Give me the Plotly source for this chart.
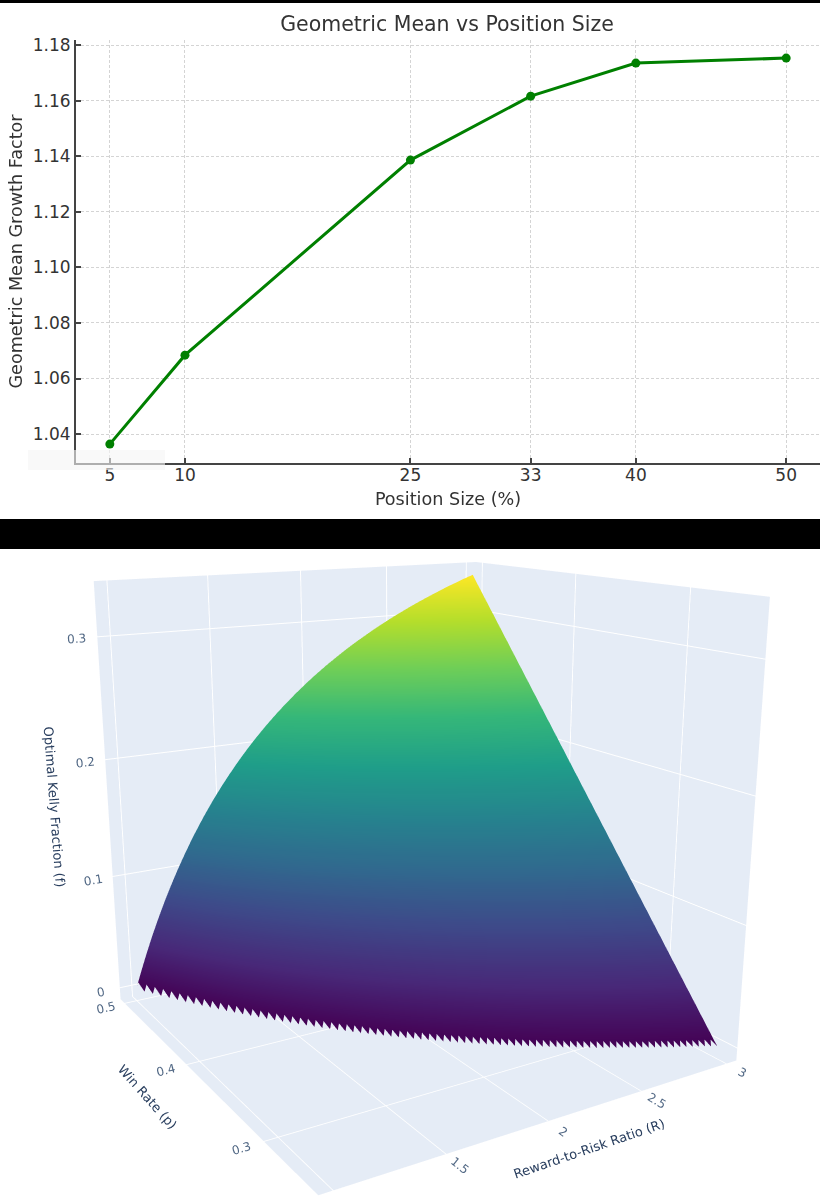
import plotly.graph_objects as go

# top chart
position_size = [5, 10, 25, 33, 40, 50]
geo_mean = [1.0364, 1.0684, 1.1386, 1.1616, 1.1735, 1.1753]
y_ticks = [1.04, 1.06, 1.08, 1.10, 1.12, 1.14, 1.16, 1.18]

# surface columns, each from the jagged zero edge up to the p=0.5 rim
# tooth tips of the edge
reward_tip = [1.000, 1.025, 1.050, 1.075, 1.100, 1.125, 1.150, 1.175, 1.200, 1.225, 1.250, 1.275, 1.300, 1.325,
              1.350, 1.375, 1.400, 1.425, 1.450, 1.475, 1.500, 1.525, 1.550, 1.575, 1.600, 1.625, 1.650, 1.675,
              1.700, 1.725, 1.750, 1.775, 1.800, 1.825, 1.850, 1.875, 1.900, 1.925, 1.950, 1.975, 2.000, 2.025,
              2.050, 2.075, 2.100, 2.125, 2.150, 2.175, 2.200, 2.225, 2.250, 2.275, 2.300, 2.325, 2.350, 2.375,
              2.400, 2.425, 2.450, 2.475, 2.500, 2.525, 2.550, 2.575, 2.600, 2.625, 2.650, 2.675, 2.700, 2.725,
              2.750, 2.775, 2.800, 2.825, 2.850, 2.875, 2.900, 2.925, 2.950, 2.975, 3.000]
win_tip = [.5000, .4938, .4878, .4819, .4762, .4706, .4651, .4598, .4545, .4494, .4444, .4396, .4348, .4301,
           .4255, .4211, .4167, .4124, .4082, .4040, .4000, .3960, .3922, .3883, .3846, .3810, .3774, .3738,
           .3704, .3670, .3636, .3604, .3571, .3540, .3509, .3478, .3448, .3419, .3390, .3361, .3333, .3306,
           .3279, .3252, .3226, .3200, .3175, .3150, .3125, .3101, .3077, .3053, .3030, .3008, .2985, .2963,
           .2941, .2920, .2899, .2878, .2857, .2837, .2817, .2797, .2778, .2759, .2740, .2721, .2703, .2685,
           .2667, .2649, .2632, .2614, .2597, .2581, .2564, .2548, .2532, .2516, .2500]
rim_tip = [.0000, .0122, .0238, .0349, .0455, .0556, .0652, .0745, .0833, .0918, .1000, .1078, .1154, .1226,
           .1296, .1364, .1429, .1491, .1552, .1610, .1667, .1721, .1774, .1825, .1875, .1923, .1970, .2015,
           .2059, .2101, .2143, .2183, .2222, .2260, .2297, .2333, .2368, .2403, .2436, .2468, .2500, .2531,
           .2561, .2590, .2619, .2647, .2674, .2701, .2727, .2753, .2778, .2802, .2826, .2849, .2872, .2895,
           .2917, .2938, .2959, .2980, .3000, .3020, .3039, .3058, .3077, .3095, .3113, .3131, .3148, .3165,
           .3182, .3198, .3214, .3230, .3246, .3261, .3276, .3291, .3305, .3319, .3333]

# notches between the teeth
reward_notch = [1.0125, 1.0375, 1.0625, 1.0875, 1.1125, 1.1375, 1.1625, 1.1875, 1.2125, 1.2375, 1.2625, 1.2875,
                1.3125, 1.3375, 1.3625, 1.3875, 1.4125, 1.4375, 1.4625, 1.4875, 1.5125, 1.5375, 1.5625, 1.5875,
                1.6125, 1.6375, 1.6625, 1.6875, 1.7125, 1.7375, 1.7625, 1.7875, 1.8125, 1.8375, 1.8625, 1.8875,
                1.9125, 1.9375, 1.9625, 1.9875, 2.0125, 2.0375, 2.0625, 2.0875, 2.1125, 2.1375, 2.1625, 2.1875,
                2.2125, 2.2375, 2.2625, 2.2875, 2.3125, 2.3375, 2.3625, 2.3875, 2.4125, 2.4375, 2.4625, 2.4875,
                2.5125, 2.5375, 2.5625, 2.5875, 2.6125, 2.6375, 2.6625, 2.6875, 2.7125, 2.7375, 2.7625, 2.7875,
                2.8125, 2.8375, 2.8625, 2.8875, 2.9125, 2.9375, 2.9625, 2.9875]
win_notch = [.4999, .4938, .4879, .4821, .4764, .4709, .4655, .4602, .4550, .4499, .4450, .4402, .4355, .4308,
             .4263, .4219, .4176, .4133, .4091, .4050, .4010, .3971, .3933, .3895, .3858, .3822, .3786, .3751,
             .3717, .3683, .3650, .3618, .3586, .3555, .3524, .3493, .3464, .3435, .3406, .3377, .3350, .3323,
             .3296, .3269, .3243, .3218, .3193, .3168, .3143, .3119, .3095, .3072, .3049, .3027, .3004, .2982,
             .2961, .2940, .2919, .2898, .2877, .2857, .2837, .2818, .2799, .2780, .2761, .2742, .2724, .2706,
             .2688, .2671, .2653, .2636, .2619, .2603, .2586, .2570, .2554, .2538]
kelly_notch = [.0060, .0059, .0058, .0058, .0057, .0056, .0056, .0055, .0055, .0054, .0054, .0053, .0053, .0052,
               .0052, .0052, .0051, .0051, .0051, .0050, .0050, .0050, .0049, .0049, .0049, .0048, .0048, .0048,
               .0048, .0047, .0047, .0047, .0047, .0046, .0046, .0046, .0046, .0045, .0045, .0045, .0045, .0045,
               .0045, .0044, .0044, .0044, .0044, .0044, .0044, .0043, .0043, .0043, .0043, .0043, .0043, .0043,
               .0042, .0042, .0042, .0042, .0042, .0042, .0042, .0042, .0041, .0041, .0041, .0041, .0041, .0041,
               .0041, .0041, .0041, .0041, .0040, .0040, .0040, .0040, .0040, .0040]
rim_notch = [.0061, .0180, .0294, .0402, .0505, .0604, .0698, .0789, .0875, .0959, .1039, .1116, .1190, .1261,
             .1330, .1396, .1460, .1521, .1581, .1638, .1694, .1747, .1799, .1850, .1899, .1946, .1992, .2037,
             .2080, .2122, .2163, .2202, .2241, .2278, .2315, .2350, .2385, .2419, .2452, .2484, .2515, .2546,
             .2575, .2604, .2633, .2660, .2687, .2714, .2740, .2765, .2790, .2814, .2837, .2860, .2883, .2906,
             .2927, .2948, .2969, .2990, .3010, .3029, .3048, .3067, .3086, .3104, .3122, .3139, .3156, .3173,
             .3190, .3206, .3222, .3238, .3253, .3268, .3283, .3298, .3312, .3326]

reward_ticks = [1, 1.5, 2, 2.5, 3]
reward_tick_text = ["", "1.5", "2", "2.5", "3"]

# figure runs past the bottom of the window, the 3D scene is cropped like in the screenshot
H = 1361
W = 820
SCENE_H = 1085
MPL_FONT = "DejaVu Sans"


def interleave(tips, notches):
    out = []
    for i in range(len(notches)):
        out += [tips[i], notches[i]]
    return out + [tips[-1]]


reward_risk = interleave(reward_tip, reward_notch)
win_edge = interleave(win_tip, win_notch)
kelly_edge = interleave([0] * len(win_tip), kelly_notch)
kelly_rim = interleave(rim_tip, rim_notch)
win_rim = [0.5] * len(reward_risk)

fig = go.Figure()

fig.add_trace(go.Scatter(x=position_size, y=geo_mean, mode="lines+markers",
                         line=dict(color="#008000", width=3),
                         marker=dict(color="#008000", size=9),
                         showlegend=False))

fig.add_trace(go.Surface(x=[reward_risk, reward_risk], y=[win_edge, win_rim], z=[kelly_edge, kelly_rim],
                         colorscale="Viridis", cmin=0, cmax=0.3333, showscale=False,
                         lighting=dict(ambient=1, diffuse=0, specular=0, fresnel=0, roughness=1),
                         scene="scene"))

axis_line = dict(showline=True, linecolor="#444444", linewidth=2, ticks="inside", ticklen=5,
                 tickcolor="#444444", tickwidth=1.5, showgrid=True, gridcolor="#d4d4d4", griddash="3px,2px",
                 gridwidth=1, zeroline=False, automargin=False,
                 tickfont=dict(family=MPL_FONT, size=17, color="#333333"))

title_font = dict(family=MPL_FONT, size=17.6, color="#333333")
tick_3d = dict(family=MPL_FONT, size=12, color="#506784")
title_3d = dict(family=MPL_FONT, size=13, color="#2a3f5f")

fig.update_layout(
    width=W, height=H, margin=dict(l=0, r=0, t=0, b=0), autosize=False,
    paper_bgcolor="white", plot_bgcolor="white", showlegend=False,
    title=dict(text="Geometric Mean vs Position Size", x=447 / W, y=1 - 24 / H, xanchor="center", yanchor="middle",
               font=dict(family=MPL_FONT, size=20.5, color="#333333")),
    xaxis=dict(domain=[76 / W, 1], range=[2.75, 52.25], tickvals=position_size, ticklabelstandoff=-4,
               title=dict(text="Position Size (%)", standoff=8, font=title_font), **axis_line),
    yaxis=dict(domain=[1 - 463 / H, 1 - 40 / H], range=[1.0296, 1.1818], tickvals=y_ticks, tickformat=".2f",
               title=dict(text="Geometric Mean Growth Factor", standoff=6, font=title_font), **axis_line),
    scene=dict(
        domain=dict(x=[4 / W, 1], y=[0, SCENE_H / H]),
        aspectmode="manual",
        aspectratio=dict(x=1, y=1, z=0.975),
        camera=dict(eye=dict(x=-1.42, y=-2.30, z=0.75)),
        xaxis=dict(title=dict(text="Reward-to-Risk Ratio (R)", font=title_3d), tickvals=reward_ticks,
                   ticktext=reward_tick_text, tickfont=tick_3d),
        yaxis=dict(title=dict(text="Win Rate (p)", font=title_3d), dtick=0.1, tickfont=tick_3d),
        zaxis=dict(title=dict(text="Optimal Kelly Fraction (f)", font=title_3d), dtick=0.1, tickfont=tick_3d),
    ),
    shapes=[
        dict(type="rect", xref="paper", yref="paper", x0=0, x1=1, y0=1 - 3 / H, y1=1,
             fillcolor="black", line_width=0),
        dict(type="rect", xref="paper", yref="paper", x0=0, x1=1, y0=1 - 549 / H, y1=1 - 519 / H,
             fillcolor="black", line_width=0),
        dict(type="rect", xref="paper", yref="paper", x0=28 / W, x1=165 / W, y0=1 - 470 / H, y1=1 - 450 / H,
             fillcolor="rgba(245,245,245,0.6)", line_width=0, layer="above"),
    ],
)

fig.write_html("out.html", config=dict(displayModeBar=False),
               post_script="document.body.style.margin='0';document.documentElement.style.overflow='hidden';")
